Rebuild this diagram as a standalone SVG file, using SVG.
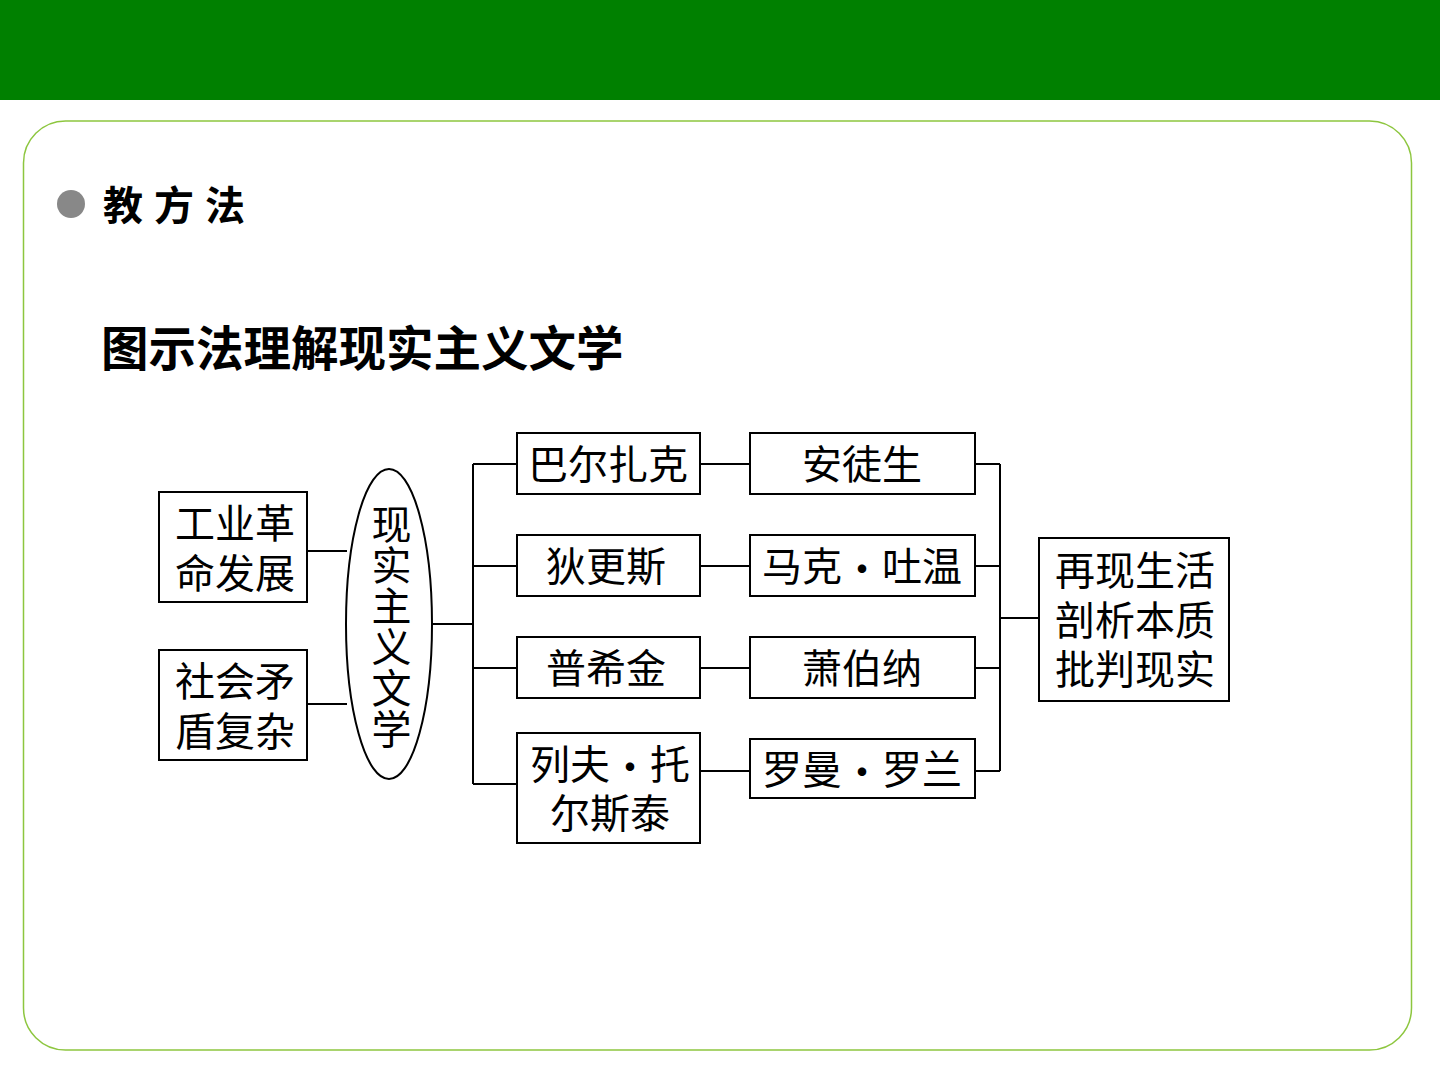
<svg xmlns="http://www.w3.org/2000/svg" width="1440" height="1080" viewBox="0 0 1440 1080">
<style>
.box{fill:#fff;stroke:#000;stroke-width:2}
.t{font-family:"Liberation Serif","Noto Sans CJK SC",serif;font-size:40px;fill:#000;text-anchor:middle;dominant-baseline:central}
.d{font-family:"Noto Sans CJK SC",sans-serif}
.ln{stroke:#000;stroke-width:2;fill:none}
</style>
<rect x="0" y="0" width="1440" height="100" fill="#008000"/>
<rect x="23.5" y="121" width="1388" height="929" rx="42" ry="42" fill="#fff" stroke="#8dc63f" stroke-width="1.5"/>
<circle cx="71" cy="204" r="14" fill="#888"/>
<text x="103" y="203" font-family="'Noto Sans CJK SC',sans-serif" font-size="40" font-weight="bold" letter-spacing="11" dominant-baseline="central">教方法</text>
<text x="101" y="345" font-family="'Noto Sans CJK SC',sans-serif" font-size="47.5" font-weight="bold" dominant-baseline="central">图示法理解现实主义文学</text>
<g id="connectors">
<path class="ln" d="M307 551H347M307 704H347"/>
<path class="ln" d="M432 624H473M473 464V784M473 464H517M473 566H517M473 668H517M473 784H517"/>
<path class="ln" d="M700 464H750M700 566H750M700 668H750M700 771H750"/>
<path class="ln" d="M975 464H1000M975 566H1000M975 668H1000M975 771H1000M1000 464V771M1000 618H1039"/>
</g>
<g id="n1"><rect class="box" x="159" y="492" width="148" height="110"/><text class="t"><tspan x="235" y="524">工业革</tspan><tspan x="235" y="574">命发展</tspan></text></g>
<g id="n2"><rect class="box" x="159" y="650" width="148" height="110"/><text class="t"><tspan x="235" y="682">社会矛</tspan><tspan x="235" y="732">盾复杂</tspan></text></g>
<g id="n3"><ellipse class="box" cx="389" cy="624" rx="43" ry="155"/>
<text class="t" x="388" y="627" style="writing-mode:vertical-rl;dominant-baseline:auto" letter-spacing="1">现实主义文学</text></g>
<g id="n4"><rect class="box" x="517" y="433" width="183" height="61"/><text class="t" x="608" y="465">巴尔扎克</text></g>
<g id="n5"><rect class="box" x="517" y="535" width="183" height="61"/><text class="t" x="606" y="567">狄更斯</text></g>
<g id="n6"><rect class="box" x="517" y="637" width="183" height="61"/><text class="t" x="606" y="669">普希金</text></g>
<g id="n7"><rect class="box" x="517" y="733" width="183" height="110"/><text class="t"><tspan x="610" y="765">列夫<tspan class="d">·</tspan>托</tspan><tspan x="610" y="814">尔斯泰</tspan></text></g>
<g id="n8"><rect class="box" x="750" y="433" width="225" height="61"/><text class="t" x="862" y="465">安徒生</text></g>
<g id="n9"><rect class="box" x="750" y="535" width="225" height="61"/><text class="t" x="862" y="567">马克<tspan class="d">·</tspan>吐温</text></g>
<g id="n10"><rect class="box" x="750" y="637" width="225" height="61"/><text class="t" x="862" y="669">萧伯纳</text></g>
<g id="n11"><rect class="box" x="750" y="739" width="225" height="59"/><text class="t" x="862" y="770">罗曼<tspan class="d">·</tspan>罗兰</text></g>
<g id="n12"><rect class="box" x="1039" y="538" width="190" height="163"/><text class="t"><tspan x="1135" y="571">再现生活</tspan><tspan x="1135" y="621">剖析本质</tspan><tspan x="1135" y="670">批判现实</tspan></text></g>
</svg>
